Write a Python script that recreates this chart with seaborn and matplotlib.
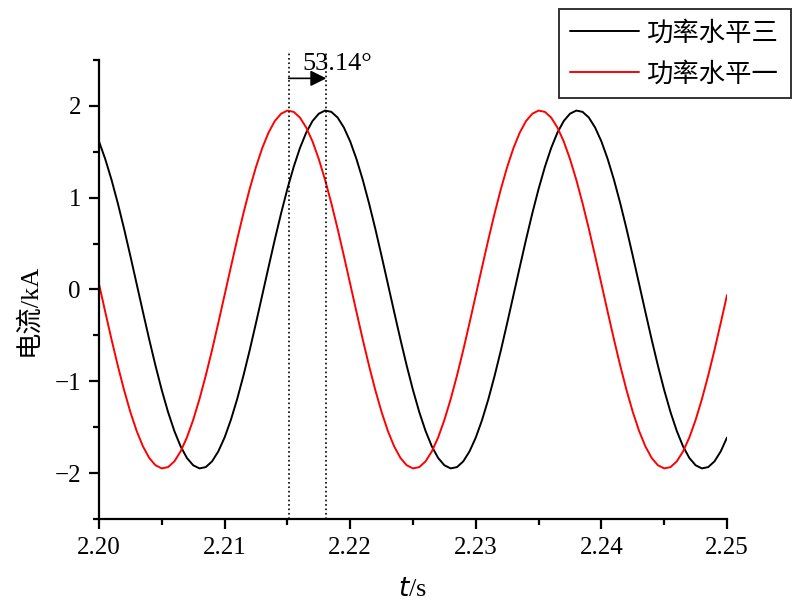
import numpy as np
import pandas as pd
import seaborn as sns
import matplotlib.pyplot as plt
from matplotlib.ticker import MultipleLocator

# sample times (s), 0.5 ms step
t = np.round(np.linspace(2.20, 2.25, 101), 4)

# 功率水平三 (black), current in kA
level3 = [
    1.613, 1.421, 1.195, 0.939, 0.661, 0.365, 0.061, -0.244, -0.544, -0.830,
    -1.096, -1.335, -1.541, -1.709, -1.835, -1.915, -1.949, -1.935, -1.873, -1.764,
    -1.613, -1.421, -1.195, -0.939, -0.661, -0.365, -0.061, 0.244, 0.544, 0.830,
    1.096, 1.335, 1.541, 1.709, 1.835, 1.915,
    1.949, 1.935, 1.873, 1.764, 1.613, 1.421, 1.195, 0.939, 0.661, 0.365,
    0.061, -0.244, -0.544, -0.830, -1.096, -1.335, -1.541, -1.709, -1.835, -1.915,
    -1.949, -1.935, -1.873, -1.764, -1.613, -1.421, -1.195, -0.939, -0.661, -0.365,
    -0.061, 0.244, 0.544, 0.830, 1.096, 1.335, 1.541, 1.709, 1.835, 1.915,
    1.949, 1.935, 1.873, 1.764, 1.613, 1.421, 1.195, 0.939, 0.661, 0.365,
    0.061, -0.244, -0.544, -0.830, -1.096, -1.335, -1.541, -1.709, -1.835, -1.915,
    -1.949, -1.935, -1.873, -1.764, -1.613,
]

# 功率水平一 (red)
level1 = [
    0.061, -0.244, -0.544, -0.830, -1.096, -1.335, -1.541, -1.709, -1.835, -1.915,
    -1.949, -1.935, -1.873, -1.764, -1.613, -1.421, -1.195, -0.939, -0.661, -0.365,
    -0.061, 0.244, 0.544, 0.830, 1.096, 1.335, 1.541, 1.709, 1.835, 1.915,
    1.949, 1.935, 1.873, 1.764, 1.613, 1.421, 1.195, 0.939, 0.661, 0.365,
    0.061, -0.244, -0.544, -0.830, -1.096, -1.335, -1.541, -1.709, -1.835, -1.915,
    -1.949, -1.935, -1.873, -1.764, -1.613, -1.421, -1.195, -0.939, -0.661, -0.365,
    -0.061, 0.244, 0.544, 0.830, 1.096, 1.335, 1.541, 1.709, 1.835, 1.915,
    1.949, 1.935, 1.873, 1.764, 1.613, 1.421, 1.195, 0.939, 0.661, 0.365,
    0.061, -0.244, -0.544, -0.830, -1.096, -1.335, -1.541, -1.709, -1.835, -1.915,
    -1.949, -1.935, -1.873, -1.764, -1.613, -1.421, -1.195, -0.939, -0.661, -0.365,
    -0.061,
]

series_names = ["功率水平三", "功率水平一"]
series_colors = ["black", "#ff0000"]

# peak times used for the phase marker
peak_red = 2.2151
peak_black = 2.2181
phase_label = "53.14°"

xticks = [2.20, 2.21, 2.22, 2.23, 2.24, 2.25]
yticks = [-2, -1, 0, 1, 2]

df = pd.concat([
    pd.DataFrame({"t": t, "I": level3, "series": series_names[0]}),
    pd.DataFrame({"t": t, "I": level1, "series": series_names[1]}),
])

sns.set_style("ticks", {"axes.edgecolor": "black", "xtick.color": "black",
                        "ytick.color": "black", "text.color": "black",
                        "axes.labelcolor": "black"})
plt.rcParams["font.family"] = ["Liberation Serif", "Noto Sans CJK SC"]
plt.rcParams["axes.unicode_minus"] = True

fig = plt.figure(figsize=(8.02, 6.06), dpi=100)
ax = fig.add_axes([0.1234, 0.1436, 0.7831, 0.7574])

sns.lineplot(data=df, x="t", y="I", hue="series", hue_order=series_names,
             palette=series_colors, linewidth=1.4, ax=ax, legend=False)

ax.set_xlim(2.20, 2.25)
ax.set_ylim(-2.5, 2.5)
ax.set_xticks(xticks)
ax.set_xticklabels([f"{v:.2f}" for v in xticks])
ax.set_yticks(yticks)
ax.xaxis.set_minor_locator(MultipleLocator(0.005))
ax.yaxis.set_minor_locator(MultipleLocator(0.5))
ax.tick_params(which="major", direction="out", length=7, width=1.6, labelsize=18, pad=6)
ax.tick_params(which="minor", direction="out", length=4, width=1.6)
for side in ["left", "bottom"]:
    ax.spines[side].set_linewidth(1.6)
sns.despine(ax=ax)

ax.set_xlabel(r"$\it{t}$/s", fontsize=19, labelpad=14)
ax.set_ylabel("电流/kA", fontsize=19)
ax.yaxis.set_label_coords(-0.094, 0.455)

# phase shift marker
for xv in [peak_red, peak_black]:
    ax.plot([xv, xv], [-2.5, 2.59], color="black", linestyle=":", linewidth=1.2, clip_on=False)
ax.annotate("", xy=(peak_black, 2.30), xytext=(peak_red, 2.30),
            arrowprops=dict(arrowstyle="-|>", color="black", lw=1.2, mutation_scale=24,
                            shrinkA=0, shrinkB=0))
ax.text(2.2162, 2.46, phase_label, fontsize=19, ha="left", va="center")

handles = [plt.Line2D([], [], color=c, linewidth=1.4) for c in series_colors]
leg = fig.legend(handles, series_names, loc="upper right", bbox_to_anchor=(0.986, 0.985),
                 fontsize=19, frameon=True, fancybox=False, handlelength=2.6,
                 handletextpad=0.3, labelspacing=0.6, borderpad=0.45, borderaxespad=0)
leg.get_frame().set_edgecolor("black")
leg.get_frame().set_linewidth(1.4)

fig.savefig("out.png", dpi=100)
